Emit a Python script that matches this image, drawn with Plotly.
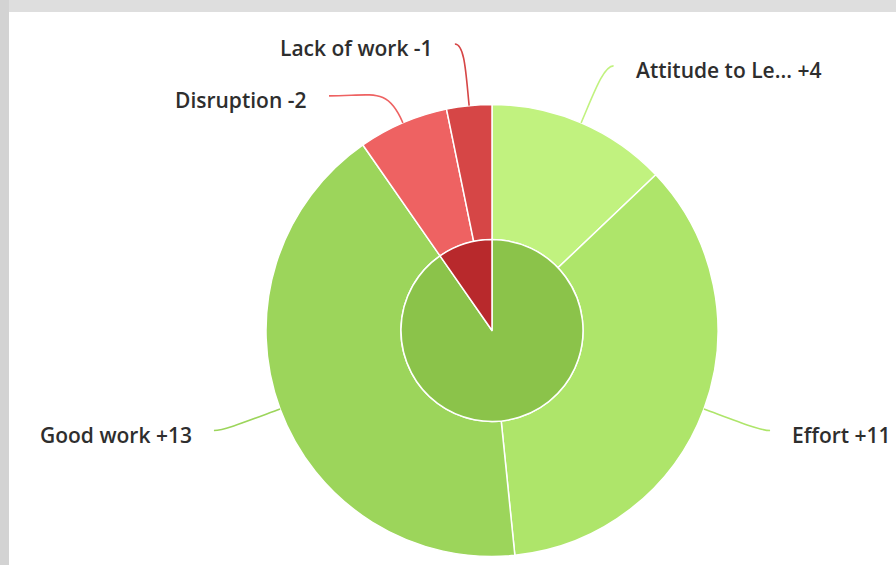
import math
import plotly.graph_objects as go

# ---------------- data ----------------
categories = ["Attitude to Le...", "Effort", "Good work", "Disruption", "Lack of work"]
scores = [4, 11, 13, -2, -1]
groups = ["Positive", "Negative"]

# ---------------- styles ----------------
outer_colors = ["#c1f27f", "#aee56a", "#9cd55b", "#ee6262", "#d64646"]
inner_colors = ["#8bc34a", "#b8292c"]
text_color = "#2e2e2e"
label_dy = [0, 0, 0, 30, 0]      # manual de-overlap shift of label (px)
label_dx = [0, 0, 0, 12, 0]
hook = [10, 10, 10, 45, 10]      # horizontal length of connector end

W, H = 896, 565
CX, CY = 492, 330.5   # pie centre (px)
R_OUT, R_IN = 226, 91
R_LAB = 288

values = [abs(s) for s in scores]
group_vals = [sum(s for s in scores if s > 0), sum(-s for s in scores if s < 0)]


def px(x, y):
    return x / W, 1 - y / H


fig = go.Figure()
fig.add_trace(go.Pie(
    labels=categories, values=values, sort=False, direction="clockwise", rotation=0,
    hole=R_IN / R_OUT, textinfo="none", hoverinfo="label+value",
    marker=dict(colors=outer_colors, line=dict(color="white", width=1.5)),
    domain=dict(x=[(CX - R_OUT) / W, (CX + R_OUT) / W],
                y=[1 - (CY + R_OUT) / H, 1 - (CY - R_OUT) / H]),
    showlegend=False,
))
fig.add_trace(go.Pie(
    labels=groups, values=group_vals, sort=False, direction="clockwise", rotation=0,
    textinfo="none", hoverinfo="label+value",
    marker=dict(colors=inner_colors, line=dict(color="white", width=1.5)),
    domain=dict(x=[(CX - R_IN) / W, (CX + R_IN) / W],
                y=[1 - (CY + R_IN) / H, 1 - (CY - R_IN) / H]),
    showlegend=False,
))

shapes = []
annotations = []
total = sum(values)
cum = 0
for i, (cat, s, v) in enumerate(zip(categories, scores, values)):
    mid = (cum + v / 2) / total * 2 * math.pi
    cum += v
    dx, dy = math.sin(mid), -math.cos(mid)
    p0 = (CX + R_OUT * dx, CY + R_OUT * dy)
    side = 1 if dx >= 0 else -1
    ey = CY + R_LAB * dy + label_dy[i]
    rem = max(R_LAB ** 2 - (ey - CY) ** 2, 0)
    ex = CX + side * (math.sqrt(rem) + 8) + label_dx[i]
    L = math.hypot(ex - p0[0], ey - p0[1])
    c1 = (p0[0] + dx * L * 0.5, p0[1] + dy * L * 0.5)
    c2 = (ex - side * hook[i], ey)
    pts = [px(*p0), px(*c1), px(*c2), px(ex, ey)]
    path = "M {:.5f},{:.5f} C {:.5f},{:.5f} {:.5f},{:.5f} {:.5f},{:.5f}".format(
        *[c for p in pts for c in p])
    shapes.append(dict(type="path", path=path, xref="paper", yref="paper",
                       line=dict(color=outer_colors[i], width=1.6)))
    tx, ty = px(ex + side * 20, ey + 4)
    annotations.append(dict(
        x=tx, y=ty, xref="paper", yref="paper", showarrow=False,
        text=f"{cat} {s:+d}", xanchor="left" if side > 0 else "right", yanchor="middle",
        font=dict(family="Open Sans", size=21, color=text_color, weight=600),
    ))

# frame (grey border of screenshot)
shapes.insert(0, dict(type="rect", xref="paper", yref="paper", x0=0, x1=1,
                      y0=1 - 12 / H, y1=1, fillcolor="#dedede", line=dict(width=0), layer="below"))
shapes.insert(1, dict(type="rect", xref="paper", yref="paper", x0=0, x1=9 / W,
                      y0=0, y1=1, fillcolor="#d3d3d3", line=dict(width=0), layer="below"))

fig.update_layout(
    width=W, height=H, margin=dict(l=0, r=0, t=0, b=0),
    paper_bgcolor="white", plot_bgcolor="white",
    shapes=shapes, annotations=annotations,
)
fig.write_html("out.html", config={"displayModeBar": False},
               post_script="document.body.style.margin='0';document.body.style.overflow='hidden';")
